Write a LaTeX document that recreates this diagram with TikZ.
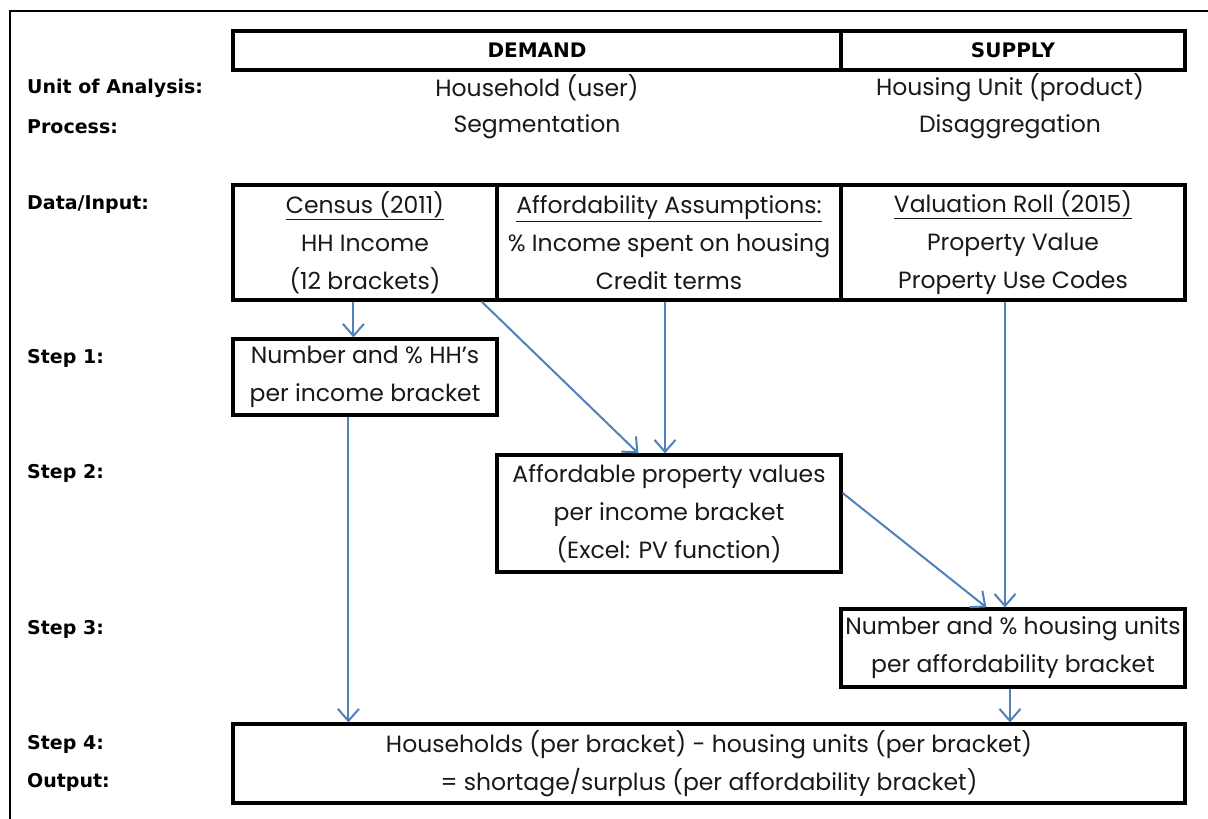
\documentclass[tikz,border=0pt]{standalone}
\usepackage{fontspec}
\setmainfont{Poppins}
\newfontfamily\lblfont{DejaVu Sans}
\usetikzlibrary{arrows.meta}
\definecolor{arrowblue}{RGB}{79,129,189}
\tikzset{
  box/.style={draw=black, line width=3.2pt, inner sep=0pt, align=center,
    font=\fontsize{23.5}{38}\selectfont, text=black!90},
  plain/.style={inner sep=0pt, font=\fontsize{23.5}{38}\selectfont, text=black!90},
  lbl/.style={anchor=west, inner sep=0pt, font=\lblfont\bfseries\fontsize{19}{22}\selectfont},
  hdr/.style={box, font=\lblfont\bfseries\fontsize{20}{22}\selectfont, text=black},
  flow/.style={draw=arrowblue, line width=2pt, -{Straight Barb[length=12pt,width=21pt]}}
}
\begin{document}
\begin{tikzpicture}[x=1pt,y=-1pt]
\useasboundingbox (0,0) rectangle (1208,819);
\fill[white] (0,0) rectangle (1208,819);
% outer frame (left and top only visible)
\coordinate (frbl) at (10,819);
\coordinate (frtl) at (10,11);
\coordinate (frtr) at (1208,11);
\draw[line width=2pt] (frbl) -- (frtl) -- (frtr);

% header
\node[hdr, minimum width=608pt, minimum height=39pt] (demand) at (537,50.5) {DEMAND};
\node[hdr, minimum width=344pt, minimum height=39pt] (supply) at (1013,50.5) {SUPPLY};

% left labels
\node[lbl] (lunit) at (27,88) {Unit of Analysis:};
\node[lbl] (lproc) at (27,127) {Process:};
\node[lbl] (ldata) at (27,205) {Data/Input:};
\node[lbl] (ls1) at (27,358) {Step 1:};
\node[lbl] (ls2) at (27,473) {Step 2:};
\node[lbl] (ls3) at (27,629) {Step 3:};
\node[lbl] (ls4) at (27,744) {Step 4:};
\node[lbl] (lout) at (27,782) {Output:};

% unit / process
\node[plain] (hh) at (537,88) {Household (user)};
\node[plain] (seg) at (537,127) {Segmentation};
\node[plain] (hu) at (1010,88) {Housing Unit (product)};
\node[plain] (dis) at (1010,127) {Disaggregation};

% data boxes
\node[box, minimum width=264pt, minimum height=115pt] (census) at (365,242.5)
  {\underline{Census (2011)}\\HH Income\\(12 brackets)};
\node[box, minimum width=344pt, minimum height=115pt] (afford) at (669,242.5)
  {\underline{Affordability Assumptions:}\\\% Income spent on housing\\Credit terms};
\node[box, minimum width=344pt, minimum height=115pt] (valroll) at (1013,242.5)
  {\underline{Valuation Roll (2015)}\\Property Value\\Property Use Codes};

% steps
\node[box, minimum width=264pt, minimum height=76pt] (step1) at (365,377)
  {Number and \% HH's\\per income bracket};
\node[box, minimum width=344pt, minimum height=117pt] (step2) at (669,513.5)
  {Affordable property values\\per income bracket\\(Excel: PV function)};
\node[box, minimum width=344pt, minimum height=78pt] (step3) at (1013,648)
  {Number and \% housing units\\per affordability bracket};
\node[box, minimum width=952pt, minimum height=79pt] (step4) at (709,763.5)
  {Households (per bracket) - housing units (per bracket)\\= shortage/surplus (per affordability bracket)};

% connectors
\draw[flow] ([xshift=122pt]census.south west) -- ([xshift=122pt]step1.north west);
\draw[flow] ([xshift=-17pt]census.south east) -- ([xshift=143pt]step2.north west);
\draw[flow] ([xshift=-4pt]afford.south) -- ([xshift=-4pt]step2.north);
\draw[flow] ([xshift=-8pt]valroll.south) -- ([xshift=-8pt]step3.north);
\draw[flow] ([yshift=20.5pt]step2.east) -- ([xshift=147pt]step3.north west);
\draw[flow] ([xshift=117pt]step1.south west) -- ([xshift=117pt]step4.north west);
\draw[flow] ([xshift=-3pt]step3.south) -- ([xshift=301pt]step4.north);
\end{tikzpicture}
\end{document}
